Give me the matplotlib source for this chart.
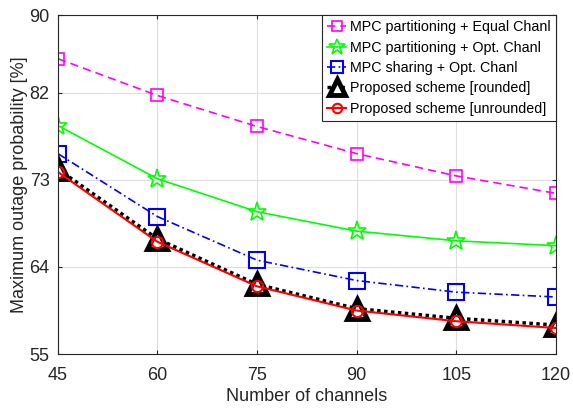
import matplotlib
matplotlib.use("Agg")
import matplotlib.pyplot as plt

plt.rcParams['font.family'] = ['Liberation Sans', 'DejaVu Sans']

channels = [45, 60, 75, 90, 105, 120]
mpc_part_equal = [85.5, 81.7, 78.5, 75.7, 73.4, 71.6]
mpc_part_opt = [78.6, 73.1, 69.7, 67.7, 66.7, 66.2]
mpc_share_opt = [75.7, 69.2, 64.7, 62.6, 61.4, 60.9]
proposed_rounded = [74.1, 66.9, 62.2, 59.7, 58.7, 58.0]
proposed_unrounded = [73.8, 66.6, 62.0, 59.5, 58.4, 57.7]

labels = ["MPC partitioning + Equal Chanl",
          "MPC partitioning + Opt. Chanl",
          "MPC sharing + Opt. Chanl",
          "Proposed scheme [rounded]",
          "Proposed scheme [unrounded]"]
xticks = [45, 60, 75, 90, 105, 120]
yticks = [55, 64, 73, 82, 90]

fig = plt.figure(figsize=(5.73, 4.08), dpi=100)
ax = fig.add_axes([0.101, 0.132, 0.869, 0.831])

ax.plot(channels, mpc_part_equal, color='#ff00ff', linestyle=(0, (5, 3)), linewidth=1.2,
        marker='s', markersize=9, markerfacecolor='none', markeredgewidth=1.2, label=labels[0])
ax.plot(channels, mpc_part_opt, color='#00ff00', linestyle='-', linewidth=1.2,
        marker='*', markersize=14, markerfacecolor='none', markeredgewidth=1.2, label=labels[1])
ax.plot(channels, mpc_share_opt, color='#0000ff', linestyle=(0, (5, 2, 1, 2)), linewidth=1.2,
        marker='s', markersize=11, markerfacecolor='none', markeredgewidth=1.5, label=labels[2])
ax.plot(channels, proposed_rounded, color='black', linestyle=(0, (1, 1)), linewidth=2.5,
        marker='^', markersize=14, markerfacecolor='white', markeredgewidth=3.5, label=labels[3])
ax.plot(channels, proposed_unrounded, color='#ff0000', linestyle='-', linewidth=1.5,
        marker='o', markersize=8, markerfacecolor='none', markeredgewidth=1.5, label=labels[4])

ax.set_xlim(45, 120)
ax.set_ylim(55, 90)
ax.set_xticks(xticks)
ax.set_yticks(yticks)
ax.tick_params(direction='in', length=3, labelsize=13, colors='#262626',
               top=True, right=True)
ax.tick_params(axis='x', pad=9)
ax.tick_params(axis='y', pad=6)
for s in ax.spines.values():
    s.set_color('#262626')
    s.set_linewidth(0.8)
ax.grid(True, color='#dfdfdf', linewidth=0.8)
ax.set_axisbelow(True)
ax.set_xlabel("Number of channels", fontsize=13, color='#262626', labelpad=3)
ax.set_ylabel("Maximum outage probability [%]", fontsize=13, color='#262626', labelpad=1)

leg = ax.legend(loc='upper right', fontsize=10.3, handlelength=1.3, handletextpad=0.3,
                borderpad=0.35, labelspacing=0.45, fancybox=False, framealpha=1,
                edgecolor='#262626', borderaxespad=0.0, markerscale=0.85)
leg.get_frame().set_linewidth(0.8)

fig.savefig("out.png", dpi=100)
